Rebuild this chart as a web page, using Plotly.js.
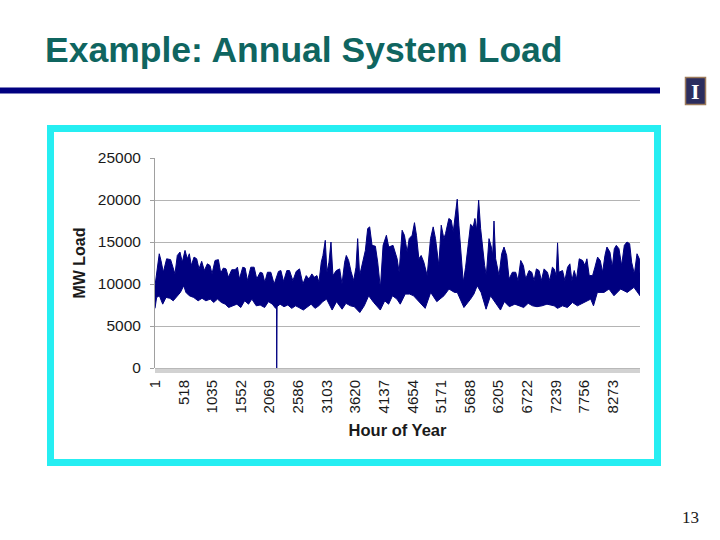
<!DOCTYPE html>
<html>
<head>
<meta charset="utf-8">
<script src="https://cdn.plot.ly/plotly-3.0.1.min.js"></script>
<style>
  html, body { margin: 0; padding: 0; background: #ffffff; }
  #chart { width: 720px; height: 540px; }
</style>
</head>
<body>
<div id="chart"></div>
<script>
// ---- Data (hour of year, MW load) ----
// Upper envelope of the hourly load band
const upperHours = [1,30,78,109,151,211,283,362,404,452,494,543,585,621,657,706,754,796,844,892,947,995,1031,1085,1146,1188,1236,1284,1327,1387,1447,1490,1526,1586,1628,1671,1731,1791,1839,1900,1942,1984,2032,2093,2153,2231,2274,2322,2382,2430,2491,2551,2611,2672,2732,2780,2834,2877,2926,2962,3004,3034,3076,3107,3143,3179,3215,3275,3336,3378,3426,3456,3498,3541,3589,3631,3661,3697,3758,3800,3842,3878,3921,3981,4023,4071,4120,4180,4222,4300,4374,4410,4464,4506,4555,4591,4645,4687,4723,4766,4808,4856,4916,4977,5025,5067,5127,5170,5218,5248,5308,5351,5387,5429,5459,5489,5531,5568,5610,5652,5700,5748,5779,5810,5846,5882,5918,5954,5984,6033,6075,6099,6123,6153,6214,6262,6304,6352,6395,6455,6515,6557,6606,6654,6696,6756,6805,6847,6889,6937,6979,7028,7088,7130,7178,7210,7246,7271,7295,7361,7403,7452,7494,7530,7572,7614,7663,7723,7765,7801,7843,7904,7946,7994,8042,8085,8127,8163,8217,8260,8296,8332,8380,8428,8477,8525,8573,8609,8658,8706,8748,8760];
const upperLoad = [9800,11400,13600,12800,11400,13000,12900,11200,13400,13800,12600,14000,13000,13600,12200,13200,13000,11800,12700,11600,12400,12200,11200,12800,12900,11300,11900,11800,10800,11700,11700,12000,10600,12000,11900,10400,12000,12000,10600,11400,11300,10200,11400,11400,10000,11500,11600,10300,11600,11600,10400,11500,11800,10000,11000,10600,11200,10800,11000,10200,12600,13400,15200,11400,12600,15000,11000,11600,11800,10000,12600,13400,12800,11500,10400,12000,15400,11000,12800,14000,16600,16800,14600,14500,12600,9500,14600,15800,14400,14600,13000,11400,16400,15800,13800,15400,15800,17300,15800,13000,13400,12600,11000,15400,16800,15400,12200,17000,15400,16000,17800,17600,16200,18200,20100,17000,13000,10200,12000,14600,17100,16800,17800,16400,20000,16600,14000,12200,11000,15400,14400,13400,17500,13000,11000,13600,14400,13400,10600,11400,11400,10400,12800,12200,10600,11600,11400,10400,11800,11600,10400,11800,11400,10400,12000,11800,11000,14900,11400,11600,10400,12000,12400,10400,11600,10600,13000,12800,12200,13000,11000,11000,12000,13200,12800,11400,13400,14400,13800,12000,14200,14600,14200,12200,14600,15000,14800,12600,11200,13600,13000,11200];
// Lower envelope of the hourly load band
const lowerHours = [1,30,80,140,200,270,330,390,460,520,560,620,700,780,850,920,1000,1060,1130,1200,1270,1330,1400,1480,1550,1620,1690,1750,1830,1900,1980,2050,2120,2180,2196,2199,2203,2206,2260,2330,2400,2470,2540,2600,2680,2750,2820,2890,2960,3030,3100,3200,3280,3380,3450,3530,3600,3700,3780,3860,3950,4070,4150,4220,4290,4370,4430,4520,4600,4670,4790,4880,4980,5090,5220,5310,5410,5460,5580,5700,5760,5820,5890,5980,6060,6150,6240,6310,6400,6500,6560,6660,6740,6820,6900,6990,7080,7160,7210,7270,7360,7450,7540,7630,7750,7870,7920,7990,8110,8200,8290,8410,8530,8650,8720,8760];
const lowerLoad = [7100,8400,8600,7600,8400,8300,8000,8400,9000,9800,9000,8600,8400,8000,8300,8000,8200,7800,8200,7800,7600,7200,7400,7600,7200,8000,7600,8200,7400,7500,7200,7900,7600,7100,7300,0,0,7300,7600,7300,7500,7100,7400,7200,6900,7200,7600,7100,7400,7900,8200,6900,7900,7000,7700,7400,7300,6600,7400,8600,7800,6900,8000,7600,8600,8200,7600,8800,8800,8600,7800,7100,9000,7900,8600,9400,9000,9000,7200,8200,8800,9800,9000,7000,8600,7800,6900,7900,7300,7600,7400,7200,7700,7400,7300,7400,7600,7500,7400,7100,7400,7200,7800,7400,7800,8200,7400,9000,9000,9400,8600,9400,9000,9600,9000,8600];
// Category tick labels shown on the x axis
const hourTicks = [1,518,1035,1552,2069,2586,3103,3620,4137,4654,5171,5688,6205,6722,7239,7756,8273];
const loadTicks = [0,5000,10000,15000,20000,25000];

const slideTitle = 'Example: Annual System Load';
const xTitle = 'Hour of Year';
const yTitle = 'MW Load';
const pageNumber = '13';

// ---- Plot-area geometry (pixels) ----
const L = 155, R = 640, T = 158, B = 368;
const W = 720, H = 540;
const px = x => (x - L) / (R - L);   // page pixel -> paper x
const py = y => (B - y) / (B - T);   // page pixel -> paper y

const bandX = upperHours.concat(lowerHours.slice().reverse());
const bandY = upperLoad.concat(lowerLoad.slice().reverse());

const navy = '#000080';
const sans = 'Liberation Sans, Arial, sans-serif';

const traces = [{
  type: 'scatter',
  mode: 'lines',
  x: bandX,
  y: bandY,
  fill: 'toself',
  fillcolor: navy,
  line: { color: navy, width: 1 },
  hoverinfo: 'skip',
  showlegend: false
}];

const layout = {
  width: W, height: H,
  margin: { l: L, r: W - R, t: T, b: H - B, pad: 0 },
  paper_bgcolor: '#ffffff',
  plot_bgcolor: '#ffffff',
  showlegend: false,
  font: { family: sans, color: '#1a1a1a' },
  xaxis: {
    range: [1, 8760],
    tickmode: 'array',
    tickvals: hourTicks,
    ticktext: hourTicks.map(String),
    tickangle: -90,
    tickfont: { size: 15, family: sans, color: '#1a1a1a' },
    ticks: '',
    ticklabelstandoff: 8,
    showgrid: false,
    zeroline: false,
    showline: false,
    title: { text: xTitle, font: { size: 16.5, family: sans, color: '#1a1a1a', weight: 'bold' }, standoff: 12 }
  },
  yaxis: {
    range: [0, 25000],
    tickmode: 'array',
    tickvals: loadTicks,
    ticktext: loadTicks.map(String),
    tickfont: { size: 15.5, family: sans, color: '#1a1a1a' },
    ticks: 'outside',
    ticklen: 4,
    tickcolor: '#a0a0a0',
    ticklabelstandoff: 6,
    showgrid: true,
    gridcolor: '#b4b4b4',
    gridwidth: 1,
    zeroline: false,
    showline: true,
    linecolor: '#a0a0a0',
    linewidth: 1,
    title: { text: yTitle, font: { size: 16, family: sans, color: '#1a1a1a', weight: 'bold' }, standoff: 8 }
  },
  shapes: [
    // cyan frame around the chart
    { type: 'rect', xref: 'paper', yref: 'paper', layer: 'below',
      x0: px(50.5), x1: px(657.5), y0: py(462.5), y1: py(128.5),
      line: { color: '#26eef2', width: 7 }, fillcolor: 'rgba(0,0,0,0)' },
    // navy rule under the slide title
    { type: 'rect', xref: 'paper', yref: 'paper',
      x0: px(0), x1: px(660), y0: py(93.5), y1: py(87.5),
      line: { width: 0 }, fillcolor: navy },
    // logo box
    { type: 'rect', xref: 'paper', yref: 'paper',
      x0: px(685.5), x1: px(705.5), y0: py(104.5), y1: py(77.5),
      line: { color: '#9c7a5a', width: 1.5 }, fillcolor: '#2b2d5e' },
    // dense category tick band along the x axis
    { type: 'rect', xref: 'x', yref: 'paper',
      x0: 1, x1: 8760, y0: py(373), y1: py(368),
      line: { width: 0 }, fillcolor: '#d2d2d2' },
    { type: 'line', xref: 'x', yref: 'paper',
      x0: 1, x1: 8760, y0: py(368.5), y1: py(368.5),
      line: { color: '#b8b8b8', width: 1 } }
  ],
  annotations: [
    { text: slideTitle, xref: 'paper', yref: 'paper', x: px(43), y: py(50),
      xanchor: 'left', yanchor: 'middle', showarrow: false,
      font: { family: sans, size: 35.5, color: '#0f6560', weight: 'bold' } },
    { text: 'I', xref: 'paper', yref: 'paper', x: px(695.5), y: py(91.5),
      xanchor: 'center', yanchor: 'middle', showarrow: false,
      font: { family: 'Liberation Serif, Times New Roman, serif', size: 22, color: '#ffffff', weight: 'bold' } },
    { text: pageNumber, xref: 'paper', yref: 'paper', x: px(690), y: py(517),
      xanchor: 'center', yanchor: 'middle', showarrow: false,
      font: { family: 'Liberation Serif, Times New Roman, serif', size: 17, color: '#1a1a1a' } }
  ]
};

Plotly.newPlot('chart', traces, layout, { staticPlot: true, displayModeBar: false });
</script>
</body>
</html>
